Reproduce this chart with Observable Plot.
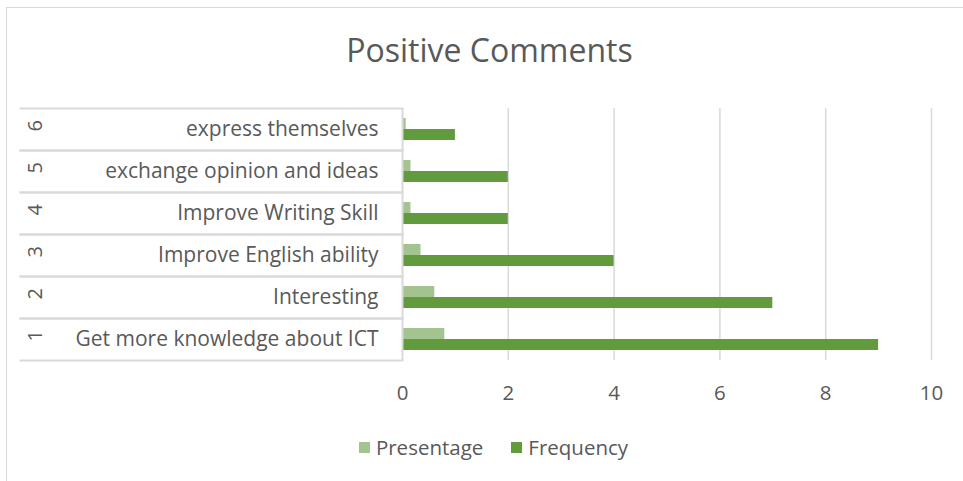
<!DOCTYPE html>
<html>
<head>
<meta charset="utf-8">
<script src="https://cdn.jsdelivr.net/npm/d3@7"></script>
<script src="https://cdn.jsdelivr.net/npm/@observablehq/plot@0.6"></script>
<style>
  html, body { margin: 0; padding: 0; background: #fff; }
  #wrap { position: relative; width: 963px; height: 481px; overflow: hidden; font-family: "Open Sans", sans-serif; color: #595959; }
  #border { position: absolute; left: 6px; top: 7px; width: 970px; height: 480px; border-left: 1.5px solid #d9d9d9; border-top: 1.5px solid #d9d9d9; }
  #title { position: absolute; left: 8px; top: 34px; width: 963px; text-align: center; font-size: 32px; line-height: 32px; }
  #chart { position: absolute; left: 0; top: 90px; }
  #legend { position: absolute; top: 435px; left: 0; width: 963px; display: flex; justify-content: center; font-size: 20.5px; line-height: 24px; padding-left: 24px; box-sizing: border-box; }
  .item { display: flex; align-items: center; margin: 0 14px; }
  .sw { width: 11px; height: 11px; margin-right: 6px; }
</style>
</head>
<body>
<div id="wrap">
  <div id="border"></div>
  <div id="title">Positive Comments</div>
  <div id="chart"></div>
  <div id="legend"></div>
</div>
<script>
// Data (top to bottom as displayed)
const labels = ["express themselves", "exchange opinion and ideas", "Improve Writing Skill", "Improve English ability", "Interesting", "Get more knowledge about ICT"];
const ids = ["6", "5", "4", "3", "2", "1"];
const presentage = [0.07, 0.16, 0.16, 0.35, 0.61, 0.8];
const frequency = [1, 2, 2, 4, 7, 9];
const seriesNames = ["Presentage", "Frequency"];
const seriesColors = ["#a3c48f", "#629a3e"];
const xTicks = [0, 2, 4, 6, 8, 10];

const rows = labels.map((l, i) => ({label: l, id: ids[i]}));
const data = [];
labels.forEach((l, i) => {
  data.push({label: l, series: "Presentage", value: presentage[i]});
  data.push({label: l, series: "Frequency", value: frequency[i]});
});

const grid = "#d9d9d9";
const plot = Plot.plot({
  width: 963,
  height: 340,
  marginTop: 16,
  marginBottom: 68,
  marginLeft: 402,
  marginRight: 32,
  style: {fontFamily: "Open Sans, sans-serif", color: "#595959", background: "transparent", overflow: "visible"},
  x: {domain: [0, 10]},
  fy: {domain: labels, padding: 0},
  y: {domain: seriesNames, paddingInner: 0, paddingOuter: 0.82, axis: null},
  color: {domain: seriesNames, range: seriesColors},
  marks: [
    Plot.ruleX(xTicks.filter(d => d > 0), {stroke: grid, strokeWidth: 1.5}),
    Plot.frame({anchor: "top", insetLeft: -382, insetRight: 529, stroke: grid, strokeWidth: 2}),
    Plot.frame({anchor: "bottom", insetLeft: -382, insetRight: 529, stroke: grid, strokeWidth: 2}),
    Plot.barX(data, {fy: "label", y: "series", x: "value", fill: "series"}),
    Plot.ruleX([0], {stroke: grid, strokeWidth: 2}),
    Plot.axisFy({anchor: "left", tickSize: 0, tickPadding: 24, fontSize: 21, label: null, fill: "#595959"}),
    Plot.text(rows, {fy: "label", text: "id", frameAnchor: "left", dx: -367, dy: 2, rotate: -90, fontSize: 20, fill: "#595959"}),
    Plot.axisX({ticks: xTicks, tickSize: 0, tickPadding: 25, fontSize: 20.5, label: null, fill: "#595959"})
  ]
});
document.getElementById("chart").appendChild(plot);

const legend = document.getElementById("legend");
seriesNames.forEach((s, i) => {
  const it = document.createElement("div");
  it.className = "item";
  it.innerHTML = `<span class="sw" style="background:${seriesColors[i]}"></span><span>${s}</span>`;
  legend.appendChild(it);
});
</script>
</body>
</html>
